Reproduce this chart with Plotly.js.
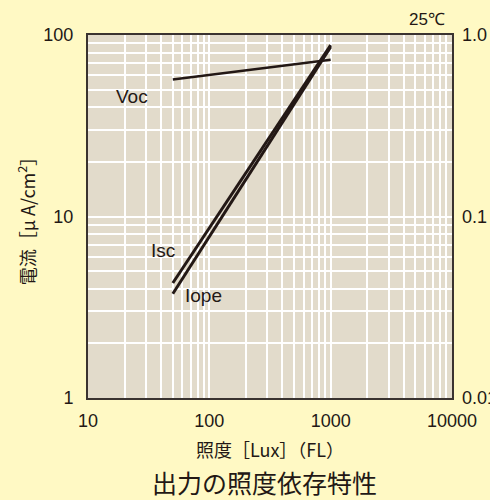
<!DOCTYPE html>
<html>
<head>
<meta charset="utf-8">
<script src="https://cdn.plot.ly/plotly-3.0.1.min.js"></script>
<style>html,body{margin:0;padding:0;background:#FFF9C4;}</style>
</head>
<body>
<div id="chart" style="width:490px;height:500px;"></div>
<script>
// Data (illuminance in Lux, current in µA/cm², Voc on same log scale)
const vocLux = [50, 1000];
const vocVal = [56.8, 73];
const iscLux = [50, 1000];
const iscVal = [4.3, 88];
const iopeLux = [50, 1000];
const iopeVal = [3.75, 86];

const xTickVals = [10, 100, 1000, 10000];
const xTickText = ['10', '100', '1000', '10000'];
const yTickVals = [1, 10, 100];
const yTickText = ['1', '10', '100'];
const y2TickVals = [0.01, 0.1, 1];
const y2TickText = ['0.01', '0.1', '1.0'];
const xMinor = [20,30,40,50,60,70,80,90,200,300,400,500,600,700,800,900,2000,3000,4000,5000,6000,7000,8000,9000];
const yMinor = [2,3,4,5,6,7,8,9,20,30,40,50,60,70,80,90];

const seriesLabels = [
  {text: 'Voc', x: 23, y: 45.7},
  {text: 'Isc', x: 41.5, y: 6.5},
  {text: 'Iope', x: 90, y: 3.68}
];

const ink = '#231815';
const font = 'Liberation Sans, Arial, Helvetica, sans-serif';
const jp = 'Noto Sans CJK JP, sans-serif';

const traces = [
  {x: vocLux, y: vocVal, mode: 'lines', line: {color: ink, width: 2.5}, hoverinfo: 'skip'},
  {x: iscLux, y: iscVal, mode: 'lines', line: {color: ink, width: 3}, hoverinfo: 'skip'},
  {x: iopeLux, y: iopeVal, mode: 'lines', line: {color: ink, width: 3}, hoverinfo: 'skip'},
  {x: [10], y: [0.1], yaxis: 'y2', mode: 'markers', marker: {opacity: 0}, hoverinfo: 'skip'}
];

const annotations = seriesLabels.map(l => ({
  x: Math.log10(l.x), y: Math.log10(l.y), xref: 'x', yref: 'y', text: l.text,
  showarrow: false, font: {family: font, size: 19, color: ink}
}));
annotations.push({
  x: 1, y: 1, xref: 'paper', yref: 'paper', xanchor: 'right', yanchor: 'bottom', yshift: 4, xshift: -5,
  text: '25℃', showarrow: false, font: {family: font, size: 17, color: ink}
});

const layout = {
  width: 490, height: 500,
  margin: {l: 88, r: 38, t: 35, b: 102},
  paper_bgcolor: '#FFF9C4',
  plot_bgcolor: '#E2DBCB',
  showlegend: false,
  font: {family: font, size: 18, color: ink},
  title: {
    text: '出力の照度依存特性', font: {family: jp, size: 25, color: ink},
    x: 0.54, xanchor: 'center', y: 0.032, yanchor: 'middle'
  },
  xaxis: {
    type: 'log', range: [1, 4],
    tickmode: 'array', tickvals: xTickVals, ticktext: xTickText,
    showgrid: true, gridcolor: '#FFFFFF', gridwidth: 2,
    minor: {tickmode: 'array', tickvals: xMinor, showgrid: true, gridcolor: '#FFFFFF', gridwidth: 2},
    showline: true, linecolor: '#3A3330', linewidth: 2, mirror: true,
    ticks: '', ticklabelstandoff: 5,
    zeroline: false,
    title: {text: '照度［Lux］（FL）', font: {family: jp, size: 18, color: ink}, standoff: 15}
  },
  yaxis: {
    type: 'log', range: [0, 2],
    tickmode: 'array', tickvals: yTickVals, ticktext: yTickText,
    showgrid: true, gridcolor: '#FFFFFF', gridwidth: 2,
    minor: {tickmode: 'array', tickvals: yMinor, showgrid: true, gridcolor: '#FFFFFF', gridwidth: 2},
    showline: true, linecolor: '#3A3330', linewidth: 2, mirror: true,
    ticks: '', ticklabelstandoff: 9,
    zeroline: false,
    title: {text: '電流［μ A/cm<sup>2</sup>］', font: {family: jp, size: 18, color: ink}, standoff: 3}
  },
  yaxis2: {
    type: 'log', range: [-2, 0], overlaying: 'y', side: 'right',
    tickmode: 'array', tickvals: y2TickVals, ticktext: y2TickText,
    showgrid: false, zeroline: false, ticks: '', ticklabelstandoff: 9
  },
  annotations: annotations
};

Plotly.newPlot('chart', traces, layout, {displayModeBar: false, staticPlot: true});
</script>
</body>
</html>
